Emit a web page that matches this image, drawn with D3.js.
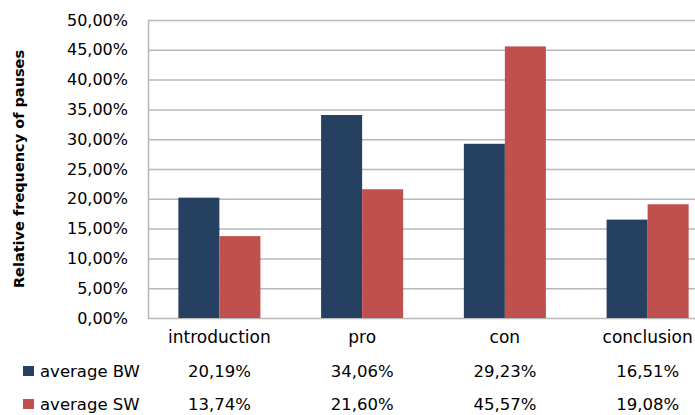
<!DOCTYPE html>
<html>
<head>
<meta charset="utf-8">
<script src="https://cdn.jsdelivr.net/npm/d3@7.9.0/dist/d3.min.js"></script>
<style>
  body { margin: 0; background: #fff; }
  svg text { font-family: "DejaVu Sans", sans-serif; fill: #000; }
</style>
</head>
<body>
<svg id="chart" width="695" height="415"></svg>
<script>
// Data
const categories = ['introduction', 'pro', 'con', 'conclusion'];
const seriesNames = ['average BW', 'average SW'];
const seriesColors = ['#264061', '#C0504D'];
const bwValues = [20.19, 34.06, 29.23, 16.51];
const swValues = [13.74, 21.60, 45.57, 19.08];
const yTicks = [0, 5, 10, 15, 20, 25, 30, 35, 40, 45, 50];

const series = [bwValues, swValues];
const fmt = (v) => v.toFixed(2).replace('.', ',') + '%';

const svg = d3.select('#chart');
const plot = { left: 148, right: 719, top: 20, bottom: 318 };

const xScale = d3.scaleBand()
    .domain(categories)
    .range([plot.left, plot.right])
    .paddingInner(0)
    .paddingOuter(0);
const xInner = d3.scaleBand()
    .domain(d3.range(seriesNames.length))
    .range([0, xScale.bandwidth()])
    .paddingOuter(0.74)
    .paddingInner(0);
const yScale = d3.scaleLinear().domain([0, 50]).range([plot.bottom, plot.top]);

// gridlines
svg.append('g')
    .attr('transform', `translate(${plot.left},0)`)
    .call(d3.axisLeft(yScale).tickValues(yTicks).tickFormat('').tickSize(-(plot.right - plot.left)))
    .call((g) => g.select('.domain').remove())
    .call((g) => g.selectAll('line').attr('stroke', '#b8b8b8').attr('stroke-width', 1.5));

// y axis labels
svg.append('g')
    .attr('transform', `translate(${plot.left},0)`)
    .call(d3.axisLeft(yScale).tickValues(yTicks).tickFormat(fmt).tickSize(0).tickPadding(20))
    .call((g) => g.select('.domain').attr('stroke', '#b8b8b8').attr('stroke-width', 1.5))
    .call((g) => g.selectAll('text')
        .style('font-family', '"DejaVu Sans", sans-serif')
        .style('font-size', '16px')
        .attr('fill', '#000'));

// bars
const groups = svg.append('g').selectAll('g')
    .data(categories)
    .join('g')
    .attr('transform', (d) => `translate(${xScale(d)},0)`);
groups.selectAll('rect')
    .data((d, i) => series.map((s, k) => ({ k, v: s[i] })))
    .join('rect')
    .attr('x', (d) => xInner(d.k))
    .attr('width', xInner.bandwidth())
    .attr('y', (d) => yScale(d.v))
    .attr('height', (d) => yScale(0) - yScale(d.v))
    .attr('fill', (d) => seriesColors[d.k]);

// category labels
svg.append('g').selectAll('text')
    .data(categories)
    .join('text')
    .attr('x', (d) => xScale(d) + xScale.bandwidth() / 2)
    .attr('y', 343)
    .attr('text-anchor', 'middle')
    .style('font-size', '17px')
    .text((d) => d);

// data table rows
const rowY = [377, 410];
seriesNames.forEach((name, k) => {
    const row = svg.append('g');
    row.append('rect')
        .attr('x', 23).attr('y', rowY[k] - 11)
        .attr('width', 11).attr('height', 10)
        .attr('fill', seriesColors[k]);
    row.append('text')
        .attr('x', 40).attr('y', rowY[k])
        .style('font-size', '16.5px')
        .text(name);
    row.selectAll('text.val')
        .data(series[k])
        .join('text')
        .attr('class', 'val')
        .attr('x', (d, i) => xScale(categories[i]) + xScale.bandwidth() / 2)
        .attr('y', rowY[k])
        .attr('text-anchor', 'middle')
        .style('font-size', '16.5px')
        .text((d) => fmt(d));
});

// y axis title
svg.append('text')
    .attr('transform', `translate(24,${(plot.top + plot.bottom) / 2}) rotate(-90)`)
    .attr('text-anchor', 'middle')
    .style('font-size', '14.5px')
    .style('font-weight', 'bold')
    .text('Relative frequency of pauses');
</script>
</body>
</html>
